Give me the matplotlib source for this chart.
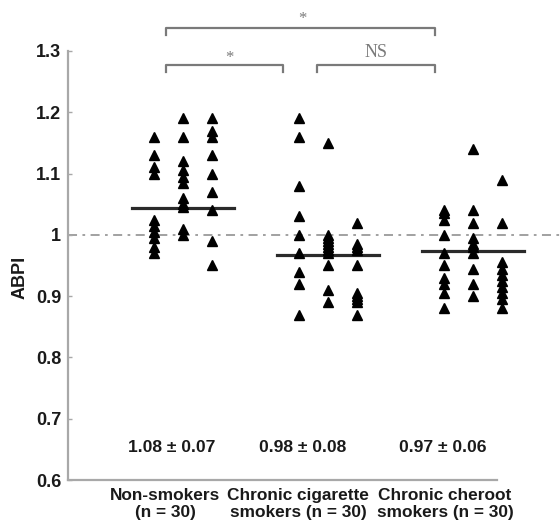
import numpy as np
import matplotlib.pyplot as plt

# ==========================================
# 1. DATOS
# ==========================================

grupos = ["Non-smokers\n(n = 30)",
          "Chronic cigarette\nsmokers (n = 30)",
          "Chronic cheroot\nsmokers (n = 30)"]

# cada grupo: tres columnas de puntos
no_fumadores = [
    [1.16, 1.13, 1.11, 1.10, 1.025, 1.015, 1.005, 0.995, 0.98, 0.97],
    [1.19, 1.16, 1.12, 1.105, 1.095, 1.085, 1.06, 1.05, 1.045, 1.01, 1.00],
    [1.19, 1.17, 1.16, 1.13, 1.10, 1.07, 1.04, 0.99, 0.95],
]
cigarrillo = [
    [1.19, 1.16, 1.08, 1.03, 1.00, 0.97, 0.94, 0.92, 0.87],
    [1.15, 1.00, 0.995, 0.99, 0.985, 0.98, 0.975, 0.97, 0.95, 0.91, 0.89],
    [1.02, 0.985, 0.98, 0.975, 0.95, 0.905, 0.90, 0.895, 0.89, 0.87],
]
cheroot = [
    [1.04, 1.035, 1.025, 1.00, 0.97, 0.95, 0.93, 0.92, 0.905, 0.88],
    [1.14, 1.04, 1.02, 0.995, 0.985, 0.98, 0.97, 0.945, 0.92, 0.90],
    [1.09, 1.02, 0.955, 0.945, 0.935, 0.925, 0.915, 0.905, 0.895, 0.88],
]
datos = [no_fumadores, cigarrillo, cheroot]

# linea horizontal de cada grupo (tal como aparece en la figura)
lineas_media = [1.043, 0.967, 0.973]

textos_media = ["1.08 ± 0.07", "0.98 ± 0.08", "0.97 ± 0.06"]

# ==========================================
# 2. FIGURA
# ==========================================

plt.rcParams['font.family'] = ['Liberation Sans', 'DejaVu Sans']

fig = plt.figure(figsize=(5.6, 5.25), dpi=100)
ax = fig.add_axes([0.1214, 0.0857, 0.8786, 0.8172])

gris = "#a8a8a8"
offsets = [-0.2, 0.0, 0.2]

for i, grupo in enumerate(datos):
    centro = i + 1
    for off, columna in zip(offsets, grupo):
        ax.plot(np.full(len(columna), centro + off), columna, linestyle="none",
                marker="^", markersize=7, color="black", clip_on=False, zorder=3)
    ax.plot([centro - 0.35, centro + 0.35], [lineas_media[i]] * 2,
            color="#2a2a2a", linewidth=2.3, clip_on=False, zorder=2)

# linea de referencia en 1
ax.axhline(1.0, color="#9a9a9a", linewidth=1.3,
           linestyle=(0, (5, 3, 1.5, 3)), zorder=1)

# textos de media +- DE
pos_texto = [0.92, 1.824, 2.79]
for x, t in zip(pos_texto, textos_media):
    ax.text(x, 0.653, t, ha="center", va="center", fontsize=12.6,
            fontweight="bold", color="#1a1a1a")

# ==========================================
# 3. CORCHETES DE SIGNIFICANCIA
# ==========================================

def corchete(x1, x2, y, alto):
    ax.plot([x1, x1, x2, x2], [y - alto, y, y, y - alto], color="#7a7a7a",
            linewidth=1.6, clip_on=False, solid_joinstyle="round")

corchete(0.883, 2.738, 1.337, 0.011)
corchete(0.883, 1.69, 1.277, 0.011)
corchete(1.924, 2.738, 1.277, 0.011)

ax.text(1.82, 1.352, "*", ha="center", va="center", fontsize=12,
        family="Liberation Serif", color="#7a7a7a", clip_on=False)
ax.text(2.33, 1.298, "NS", ha="center", va="center", fontsize=13,
        family="Liberation Serif", color="#7a7a7a", clip_on=False)
ax.text(1.317, 1.289, "*", ha="center", va="center", fontsize=12,
        family="Liberation Serif", color="#7a7a7a", clip_on=False)

# ==========================================
# 4. EJES
# ==========================================

ax.set_xlim(0.207, 3.6)
ax.set_ylim(0.6, 1.3)

ax.set_yticks([0.6, 0.7, 0.8, 0.9, 1.0, 1.1, 1.2, 1.3])
ax.set_yticklabels(["0.6", "0.7", "0.8", "0.9", "1", "1.1", "1.2", "1.3"],
                   fontsize=13, fontweight="bold", color="#1a1a1a")
ax.tick_params(axis="y", direction="in", length=3, width=1, color=gris, pad=5)

ax.set_xticks([0.876, 1.793, 2.807])
ax.set_xticklabels(grupos, fontsize=12.4, fontweight="bold", color="#1a1a1a",
                   linespacing=1.12)
ax.tick_params(axis="x", length=0, pad=6)

ax.set_ylabel("ABPI", fontsize=13, fontweight="bold", color="#1a1a1a")
ax.yaxis.set_label_coords(-0.081, 0.473)

for lado in ["top", "right"]:
    ax.spines[lado].set_visible(False)
for lado in ["left", "bottom"]:
    ax.spines[lado].set_color(gris)
    ax.spines[lado].set_linewidth(1.6)
ax.spines["bottom"].set_bounds(0.207, 3.166)

ax.patch.set_alpha(0)

plt.savefig("out.png", dpi=100)
